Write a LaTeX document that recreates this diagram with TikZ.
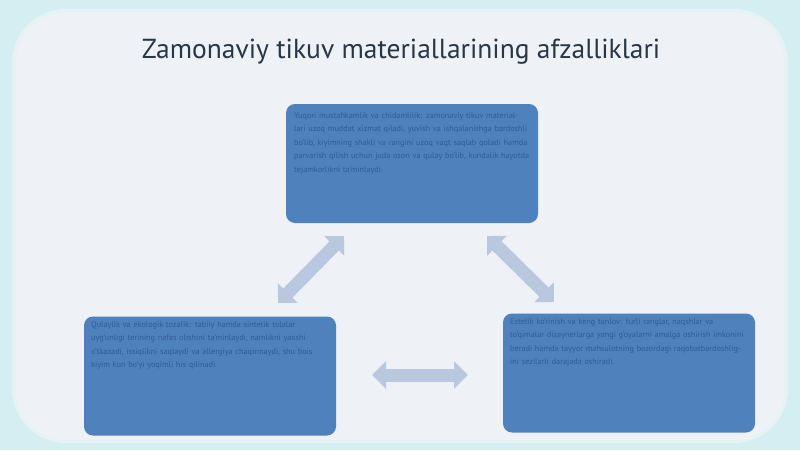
\documentclass[tikz,border=0pt]{standalone}
\usepackage{fontspec}
\setmainfont{PT Sans}
\usetikzlibrary{arrows.meta,calc}
\definecolor{bgcyan}{HTML}{D4EEF1}
\definecolor{panel}{HTML}{EEF1F6}
\definecolor{paneltop}{HTML}{E1E4E9}
\definecolor{panelglow}{HTML}{E6F3F5}
\definecolor{boxblue}{HTML}{4F81BD}
\definecolor{boxtext}{HTML}{2F5C97}
\definecolor{arrowc}{HTML}{B9C7DF}
\definecolor{titlec}{HTML}{2A3644}
\pgfdeclareverticalshading{panelsh}{100bp}{color(0bp)=(panel); color(88bp)=(panel); color(100bp)=(paneltop)}
\tikzset{
  infobox/.style={fill=boxblue, rounded corners=9pt, minimum width=252pt, minimum height=119pt, inner sep=0pt},
  boxtxt/.style={text=boxtext, font=\fontsize{8.2}{13.6}\selectfont, align=left, text width=236pt, anchor=north west, inner sep=0pt},
  linkarrow/.style={draw=arrowc, line width=13pt, {Triangle[width=27pt,length=14pt]}-{Triangle[width=27pt,length=14pt]}}
}
\begin{document}
\begin{tikzpicture}[x=1pt,y=-1pt]
\useasboundingbox (0,0) rectangle (800,450);
\fill[bgcyan] (0,0) rectangle (800,450);
% panel with soft glow
\fill[panelglow,rounded corners=54pt] (12,9) rectangle (788,443);
\shade[rounded corners=50pt, shading=panelsh] (16,13) rectangle (784,440);
% title
\node (title) at (401,52) {\fontsize{27.5}{32}\selectfont\color{titlec}Zamonaviy tikuv materiallarining afzalliklari};
% boxes
\node[infobox] (top) at (412,163.5) {};
\node[infobox] (left) at (210,376) {};
\node[infobox] (right) at (629,373) {};
\node[boxtxt] (ttop) at (294,112) {Yuqori mustahkamlik va chidamlilik: zamonaviy tikuv materiallari uzoq muddat xizmat qiladi, yuvish va ishqalanishga bardoshli bo'lib, kiyimning shakli va rangini uzoq vaqt saqlab qoladi hamda parvarish qilish uchun juda oson va qulay bo'lib, kundalik hayotda tejamkorlikni ta'minlaydi.};
\node[boxtxt] (tleft) at (91,321) {Qulaylik va ekologik tozalik: tabiiy hamda sintetik tolalar uyg'unligi terining nafas olishini ta'minlaydi, namlikni yaxshi o'tkazadi, issiqlikni saqlaydi va allergiya chaqirmaydi, shu bois kiyim kun bo'yi yoqimli his qilinadi.};
\node[boxtxt] (tright) at (510,318) {Estetik ko'rinish va keng tanlov: turli ranglar, naqshlar va to'qimalar dizaynerlarga yangi g'oyalarni amalga oshirish imkonini beradi hamda tayyor mahsulotning bozordagi raqobatbardoshligini sezilarli darajada oshiradi.};
% arrow end points
\coordinate (a1) at (344,236);
\coordinate (a2) at (278,303);
\coordinate (b1) at (487,236);
\coordinate (b2) at (554,302);
\coordinate (c1) at (372,375);
\coordinate (c2) at (468,375);
\draw[linkarrow] (a1) -- (a2);
\draw[linkarrow] (b1) -- (b2);
\draw[linkarrow] (c1) -- (c2);
\end{tikzpicture}
\end{document}
